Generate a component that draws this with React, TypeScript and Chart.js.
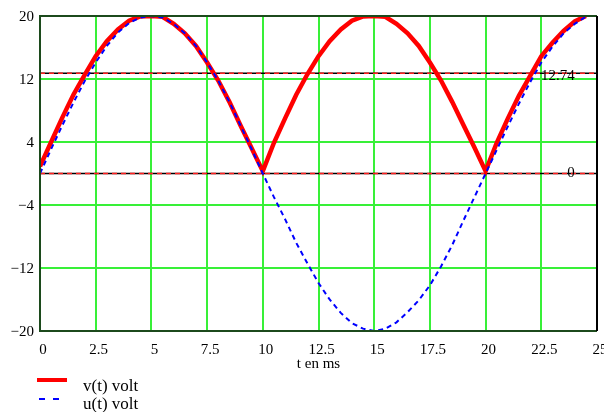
import React, { useEffect, useRef } from "react";
import { Chart, registerables } from "chart.js";

Chart.register(...registerables);

// time axis (ms)
const tMs = [
  0, 0.5, 1, 1.5, 2, 2.5, 3, 3.5, 4, 4.5,
  5, 5.5, 6, 6.5, 7, 7.5, 8, 8.5, 9, 9.5,
  10, 10.5, 11, 11.5, 12, 12.5, 13, 13.5, 14, 14.5,
  15, 15.5, 16, 16.5, 17, 17.5, 18, 18.5, 19, 19.5,
  20, 20.5, 21, 21.5, 22, 22.5, 23, 23.5, 24, 24.5,
];

// v(t) volt (rectified)
const vVolt = [
  0.9, 4.0, 7.1, 10.0, 12.5, 14.9, 16.8, 18.3, 19.4, 19.95,
  20, 19.9, 19.0, 17.8, 16.2, 14.1, 11.8, 9.1, 6.1, 3.2,
  0.3, 3.9, 7.0, 10.0, 12.6, 14.9, 16.8, 18.3, 19.4, 19.95,
  20, 19.9, 19.0, 17.8, 16.2, 14.1, 11.8, 9.1, 6.2, 3.3,
  0.3, 3.9, 7.0, 9.9, 12.4, 14.9, 16.6, 18.1, 19.3, 20,
];

// u(t) volt
const uVolt = [
  0, 3.1, 6.1, 9.0, 11.7, 14.1, 16.2, 17.9, 19.1, 19.8,
  20, 19.8, 19.0, 17.8, 16.2, 14.1, 11.8, 9.1, 6.1, 3.1,
  0, -3.0, -5.8, -8.8, -11.4, -13.9, -16.0, -17.7, -19.0, -19.7,
  -20, -19.7, -18.9, -17.6, -16.1, -14.2, -11.8, -9.1, -6.0, -3.0,
  0, 3.0, 6.0, 8.9, 11.6, 14.1, 16.1, 17.8, 19.0, 19.9,
];

const xTicks = [0, 2.5, 5, 7.5, 10, 12.5, 15, 17.5, 20, 22.5, 25];
const yTicks = [-20, -12, -4, 4, 12, 20];
const refValues = [12.74, 0];
const refLabels = ["12.74", "0"];
const xRange = [0, 25];
const yRange = [-20, 20];
const legendLabels = ["v(t) volt", "u(t) volt"];
const xTitle = "t en ms";

const SERIF = '"Liberation Serif", "Times New Roman", serif';

const overlayPlugin = {
  id: "overlay",
  afterDatasetsDraw(chart: any) {
    const { ctx, chartArea, scales } = chart;
    const { left, right, top, bottom } = chartArea;
    ctx.save();
    // frame
    ctx.lineWidth = 2;
    ctx.strokeStyle = "#1c4a1c";
    ctx.beginPath();
    ctx.moveTo(right, top);
    ctx.lineTo(left, top);
    ctx.lineTo(left, bottom);
    ctx.lineTo(right, bottom);
    ctx.stroke();
    ctx.strokeStyle = "#000000";
    ctx.beginPath();
    ctx.moveTo(right, top);
    ctx.lineTo(right, bottom);
    ctx.stroke();

    // reference labels
    ctx.fillStyle = "#000";
    ctx.font = `15px ${SERIF}`;
    ctx.textAlign = "right";
    ctx.textBaseline = "middle";
    const xr = scales.x.getPixelForValue(24);
    refValues.forEach((v, i) => {
      const py = scales.y.getPixelForValue(v);
      ctx.fillText(refLabels[i], xr, py + (v === 0 ? 0 : 3));
    });
    ctx.restore();
  },
  afterDraw(chart: any) {
    const { ctx, chartArea } = chart;
    ctx.save();
    ctx.fillStyle = "#000";
    ctx.font = `15px ${SERIF}`;
    ctx.textAlign = "center";
    ctx.textBaseline = "alphabetic";
    ctx.fillText(xTitle, (chartArea.left + chartArea.right) / 2, 367.5);

    // legend
    ctx.lineWidth = 4;
    ctx.strokeStyle = "#ff0000";
    ctx.beginPath();
    ctx.moveTo(37, 380);
    ctx.lineTo(67, 380);
    ctx.stroke();
    ctx.lineWidth = 2;
    ctx.strokeStyle = "#0000ff";
    ctx.setLineDash([6, 8]);
    ctx.beginPath();
    ctx.moveTo(39, 399);
    ctx.lineTo(59, 399);
    ctx.stroke();
    ctx.setLineDash([]);
    ctx.font = `17px ${SERIF}`;
    ctx.textAlign = "left";
    ctx.fillText(legendLabels[0], 83, 391);
    ctx.fillText(legendLabels[1], 83, 409);
    ctx.restore();
  },
};

export default function App() {
  const ref = useRef<HTMLCanvasElement | null>(null);

  useEffect(() => {
    if (!ref.current) return;
    const mk = (ys: number[]) => tMs.map((t, i) => ({ x: t, y: ys[i] }));
    const refLine = (v: number) => [
      { x: xRange[0], y: v },
      { x: xRange[1], y: v },
    ];
    const datasets: any[] = [
      {
        label: "u(t) volt",
        data: mk(uVolt),
        borderColor: "#0000ff",
        borderWidth: 2,
        borderDash: [5, 4],
        pointRadius: 0,
        tension: 0,
        clip: 0,
        order: 0,
      },
      {
        label: "v(t) volt",
        data: mk(vVolt),
        borderColor: "#ff0000",
        borderWidth: 4.5,
        pointRadius: 0,
        tension: 0,
        clip: 0,
        order: 1,
      },
    ];
    refValues.forEach((v, i) => {
      datasets.push({
        label: "ref-red-" + i,
        data: refLine(v),
        borderColor: "#ff2020",
        borderWidth: 1.5,
        borderDash: [5, 4],
        pointRadius: 0,
        order: 2,
      });
      datasets.push({
        label: "ref-black-" + i,
        data: refLine(v),
        borderColor: "#000000",
        borderWidth: 1.5,
        pointRadius: 0,
        order: 3,
      });
    });

    const tickFont = { family: SERIF, size: 15 };
    const fmt = (v: any) => String(v).replace("-", "\u2212");

    const chart = new Chart(ref.current, {
      type: "line",
      data: { datasets },
      options: {
        animation: false,
        responsive: false,
        events: [],
        layout: { padding: { left: 0, top: 16, right: 7, bottom: 0 } },
        plugins: {
          legend: { display: false },
          tooltip: { enabled: false },
        },
        scales: {
          x: {
            type: "linear",
            min: xRange[0],
            max: xRange[1],
            afterBuildTicks: (s: any) => {
              s.ticks = xTicks.map((v) => ({ value: v }));
            },
            afterFit: (s: any) => {
              s.height = 81;
              s.paddingLeft = 0;
              s.paddingRight = 0;
            },
            grid: { color: "#38f038", lineWidth: 2, drawTicks: false },
            border: { display: false },
            ticks: {
              font: tickFont,
              color: "#000",
              padding: 10,
              labelOffset: 3,
              maxRotation: 0,
              autoSkip: false,
              callback: fmt,
            },
          },
          y: {
            type: "linear",
            min: yRange[0],
            max: yRange[1],
            afterBuildTicks: (s: any) => {
              s.ticks = yTicks.map((v) => ({ value: v }));
            },
            afterFit: (s: any) => {
              s.width = 40;
              s.paddingTop = 0;
              s.paddingBottom = 0;
            },
            grid: { color: "#38f038", lineWidth: 2, drawTicks: false },
            border: { display: false },
            ticks: {
              font: tickFont,
              color: "#000",
              padding: 6,
              labelOffset: 1.5,
              autoSkip: false,
              callback: fmt,
            },
          },
        },
      },
      plugins: [overlayPlugin],
    } as any);
    return () => chart.destroy();
  }, []);

  return (
    <div style={{ position: "fixed", left: 0, top: 0, width: 604, height: 412, background: "#fff" }}>
      <canvas ref={ref} width={604} height={412} style={{ display: "block", width: 604, height: 412 }} />
    </div>
  );
}
